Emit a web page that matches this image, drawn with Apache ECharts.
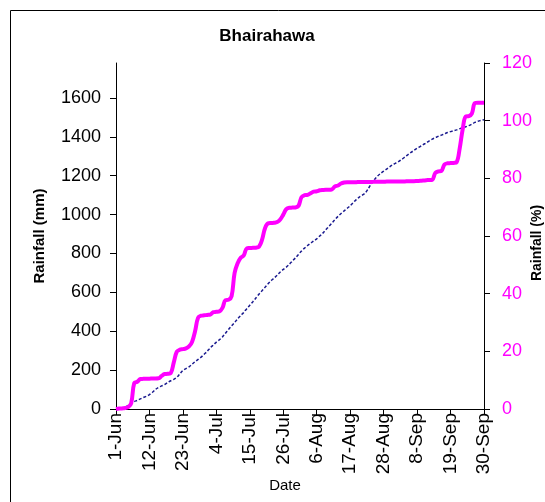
<!DOCTYPE html>
<html><head><meta charset="utf-8">
<script src="https://cdn.jsdelivr.net/npm/echarts@6/dist/echarts.min.js"></script>
<style>html,body{margin:0;padding:0;background:#fff}#c{width:545px;height:502px}</style>
</head><body><div id="c"></div>
<script>
// Categories: days from 1-Jun to 30-Sep
const months = [['Jun', 30], ['Jul', 31], ['Aug', 31], ['Sep', 30]];
const dates = [];
months.forEach(([m, n]) => { for (let d = 1; d <= n; d++) dates.push(d + '-' + m); });

// Cumulative rainfall (mm), left axis
const rainfallMm = [
  0, 2, 3, 5, 10, 30, 134, 140, 154, 155,
  156, 156, 157, 157, 158, 170, 180, 181, 185, 240,
  295, 305, 308, 312, 322, 345, 400, 470, 480, 482,
  484, 486, 498, 500, 502, 520, 560, 562, 580, 700,
  750, 778, 790, 826, 828, 829, 830, 835, 870, 930,
  955, 957, 958, 962, 975, 1000, 1028, 1035, 1036, 1037,
  1045, 1090, 1100, 1102, 1110, 1118, 1120, 1125, 1127, 1128,
  1128, 1130, 1145, 1150, 1160, 1165, 1167, 1167, 1167, 1167,
  1168, 1168, 1168, 1168, 1168, 1169, 1169, 1169, 1169, 1170,
  1170, 1170, 1170, 1171, 1171, 1171, 1172, 1172, 1172, 1173,
  1174, 1175, 1177, 1178, 1180, 1215, 1222, 1225, 1258, 1264,
  1265, 1266, 1270, 1340, 1440, 1505, 1507, 1520, 1573, 1575,
  1575, 1575
];

// Cumulative rainfall (%), right axis
const rainfallPct = [
  0, 0.2, 0.4, 0.7, 1.2, 2.0, 2.6, 3.0, 3.5, 4.0,
  4.4, 5.0, 5.8, 6.8, 7.5, 8.0, 8.5, 9.2, 9.8, 10.3,
  11.0, 12.2, 13.4, 14.0, 14.6, 15.5, 16.4, 17.2, 18.0, 19.0,
  20.0, 21.2, 22.2, 23.2, 24.0, 25.0, 26.3, 27.6, 28.8, 30.0,
  31.3, 32.4, 33.5, 34.8, 36.0, 37.2, 38.5, 39.8, 41.0, 42.2,
  43.4, 44.5, 45.4, 46.4, 47.5, 48.4, 49.2, 50.2, 51.3, 52.4,
  53.6, 54.8, 55.8, 56.7, 57.5, 58.3, 59.0, 60.0, 61.0, 62.2,
  63.3, 64.5, 65.7, 66.8, 67.8, 68.7, 69.6, 70.5, 71.6, 72.6,
  73.5, 74.2, 75.0, 76.5, 78.2, 79.6, 80.8, 81.7, 82.5, 83.2,
  84.0, 84.7, 85.3, 85.9, 86.6, 87.4, 88.2, 89.0, 89.7, 90.4,
  91.0, 91.7, 92.3, 93.0, 93.6, 94.1, 94.6, 95.0, 95.4, 95.9,
  96.2, 96.5, 96.8, 97.2, 97.6, 97.9, 98.3, 98.8, 99.4, 99.8,
  100.1, 100.3
];

const leftTicks = [0, 200, 400, 600, 800, 1000, 1200, 1400, 1600];
const rightTicks = [0, 20, 40, 60, 80, 100, 120];

const FONT = 'Liberation Sans, Arial, sans-serif';
const chart = echarts.init(document.getElementById('c'), null, { renderer: 'canvas' });
chart.setOption({
  animation: false,
  backgroundColor: '#fff',
  grid: { left: 116, right: 61, top: 63, bottom: 93, containLabel: false, outerBoundsMode: 'none' },
  graphic: [
    { type: 'rect', shape: { x: 10.5, y: 10.5, width: 700, height: 700 },
      style: { fill: 'none', stroke: '#000', lineWidth: 1 }, silent: true },
    { type: 'text', style: { text: 'Bhairahawa', x: 267, y: 36, align: 'center', verticalAlign: 'middle',
      font: 'bold 17px ' + FONT, fill: '#000' } },
    { type: 'text', style: { text: 'Date', x: 285, y: 486, align: 'center', verticalAlign: 'middle',
      font: '15px ' + FONT, fill: '#000' } },
    { type: 'text', x: 537, y: 243, rotation: Math.PI / 2,
      style: { text: 'Rainfall (%)', x: 0, y: 0, align: 'center', verticalAlign: 'middle',
      font: 'bold 14px ' + FONT, fill: '#000' } }
  ],
  xAxis: {
    type: 'category', data: dates, boundaryGap: false,
    axisLine: { lineStyle: { color: '#000', width: 1 } },
    axisTick: { interval: 10, length: 6, lineStyle: { color: '#000' } },
    axisLabel: { interval: 10, rotate: 90, margin: 4, fontSize: 19, fontFamily: FONT, color: '#000' },
    splitLine: { show: false }
  },
  yAxis: [
    { type: 'value', position: 'left', min: 0, max: 1780, interval: 200,
      name: 'Rainfall (mm)', nameLocation: 'middle', nameGap: 69, nameRotate: 90,
      nameTextStyle: { fontSize: 15, fontWeight: 'bold', fontFamily: FONT, color: '#000' },
      axisLine: { show: true, lineStyle: { color: '#000', width: 1 } },
      axisTick: { show: true, length: 6, customValues: leftTicks, lineStyle: { color: '#000' } },
      axisLabel: { customValues: leftTicks, margin: 15, fontSize: 18, fontFamily: FONT, color: '#000',
        formatter: v => String(v) },
      splitLine: { show: false } },
    { type: 'value', position: 'right', min: 0, max: 120, interval: 20,
      axisLine: { show: true, lineStyle: { color: '#000', width: 1 } },
      axisTick: { show: true, length: 6, customValues: rightTicks, lineStyle: { color: '#000' } },
      axisLabel: { customValues: rightTicks, margin: 18, fontSize: 18, fontFamily: FONT, color: '#ff00ff',
        formatter: v => String(v) },
      splitLine: { show: false } }
  ],
  series: [
    { name: 'Rainfall (%)', type: 'line', yAxisIndex: 1, data: rainfallPct, showSymbol: false,
      smooth: 0.3, lineStyle: { color: '#1a1a8f', width: 1.5, type: [3, 2] }, z: 2 },
    { name: 'Rainfall (mm)', type: 'line', yAxisIndex: 0, data: rainfallMm, showSymbol: false,
      smooth: 0.4, lineStyle: { color: '#ff00ff', width: 4 }, z: 3 }
  ]
});
</script></body></html>
